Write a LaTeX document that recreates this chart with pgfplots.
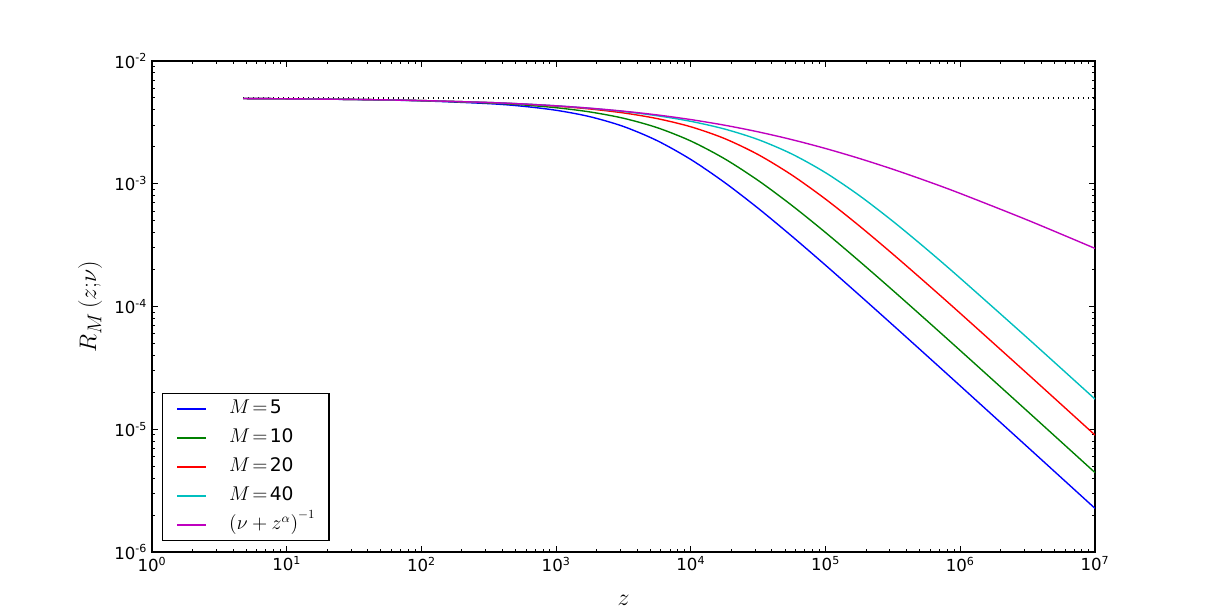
\documentclass[border=0pt]{standalone}
\usepackage[no-math]{fontspec}
\setmainfont{DejaVu Sans}
\usepackage{pgfplots}
\pgfplotsset{compat=1.18}
\definecolor{mplblue}{rgb}{0,0,1}
\definecolor{mplgreen}{rgb}{0,0.5,0}
\definecolor{mplred}{rgb}{1,0,0}
\definecolor{mplcyan}{rgb}{0,0.75,0.75}
\definecolor{mplmag}{rgb}{0.75,0,0.75}
\newcommand{\E}[1]{10\textsuperscript{#1}}
\begin{document}
\begin{tikzpicture}
\useasboundingbox (0,0) rectangle (875.52bp,440.64bp);
\begin{axis}[
  at={(109.44bp,43.2bp)}, anchor=south west,
  scale only axis, width=678.96bp, height=353.52bp,
  xmode=log, ymode=log,
  xmin=1, xmax=1e7, ymin=1e-6, ymax=1e-2,
  axis line style={line width=1bp},
  tick align=inside,
  major tick length=4bp, minor tick length=2bp,
  every tick/.style={black, line width=0.7bp},
  xtick={1,10,100,1000,10000,100000,1000000,10000000},
  xticklabels={\E{0},\E{1},\E{2},\E{3},\E{4},\E{5},\E{6},\E{7}},
  minor xtick={2,3,4,5,6,7,8,9,20,30,40,50,60,70,80,90,200,300,400,500,600,700,800,900,2000,3000,4000,5000,6000,7000,8000,9000,20000,30000,40000,50000,60000,70000,80000,90000,200000,300000,400000,500000,600000,700000,800000,900000,2000000,3000000,4000000,5000000,6000000,7000000,8000000,9000000},
  ytick={1e-6,1e-5,1e-4,1e-3,1e-2},
  yticklabels={\E{-6},\E{-5},\E{-4},\E{-3},\E{-2}},
  minor ytick={2e-6,3e-6,4e-6,5e-6,6e-6,7e-6,8e-6,9e-6,2e-5,3e-5,4e-5,5e-5,6e-5,7e-5,8e-5,9e-5,2e-4,3e-4,4e-4,5e-4,6e-4,7e-4,8e-4,9e-4,2e-3,3e-3,4e-3,5e-3,6e-3,7e-3,8e-3,9e-3},
  tick label style={font=\fontsize{12}{14}\selectfont},
  xlabel={$z$},
  ylabel={$R_M\,(z{;}\nu)$},
  label style={font=\fontsize{19}{22}\selectfont},
  xlabel style={at={(axis description cs:0.5,-0.0978)}, anchor=center},
  ylabel style={at={(axis description cs:-0.0657,0.5)}, anchor=center},
  legend style={at={(axis description cs:0.0106,0.0224)}, anchor=south west,
    draw=black, line width=1bp, font=\fontsize{13.5}{16}\selectfont,
    inner xsep=9.9bp, inner ysep=0.5bp, row sep=0bp, column sep=16.1bp,
    nodes={inner sep=0pt, text height=13.45bp, text depth=7.45bp},
    row 5/.style={nodes={text height=19.15bp, text depth=13.15bp}}},
  legend cell align=left,
  legend image code/.code={\draw[#1, line width=1bp] (0bp,0bp) -- (20.9bp,0bp);},
]
\addplot[black, line width=1bp, dash pattern=on 1bp off 2.6bp, forget plot] coordinates {(4.74,5e-3) (1e7,5e-3)};
\addplot[mplblue, line width=1bp, smooth] coordinates {(4.742,4.946e-3) (10,4.920e-3) (31.62,4.857e-3) (100,4.738e-3) (316.2,4.494e-3) (562.3,4.282e-3) (1000,3.969e-3) (1778,3.520e-3) (3162,2.928e-3) (5623,2.244e-3) (10000,1.576e-3) (17783,1.025e-3) (31623,6.307e-4) (56234,3.738e-4) (1e5,2.168e-4) (177828,1.241e-4) (316228,7.055e-5) (562341,3.993e-5) (1e6,2.254e-5) (3162278,7.158e-6) (1e7,2.267e-6)};
\addlegendentry{$M\mskip2mu{=}\mskip2mu$5}
\addplot[mplgreen, line width=1bp, smooth] coordinates {(4.742,4.946e-3) (10,4.921e-3) (31.62,4.862e-3) (100,4.752e-3) (316.2,4.551e-3) (562.3,4.389e-3) (1000,4.164e-3) (1778,3.848e-3) (3162,3.417e-3) (5623,2.864e-3) (10000,2.229e-3) (17783,1.599e-3) (31623,1.063e-3) (56234,6.659e-4) (1e5,4.003e-4) (177828,2.344e-4) (316228,1.351e-4) (562341,7.709e-5) (1e6,4.375e-5) (3162278,1.397e-5) (1e7,4.436e-6)};
\addlegendentry{$M\mskip2mu{=}\mskip2mu$10}
\addplot[mplred, line width=1bp, smooth] coordinates {(4.742,4.946e-3) (10,4.921e-3) (31.62,4.863e-3) (100,4.761e-3) (316.2,4.586e-3) (562.3,4.457e-3) (1000,4.287e-3) (1778,4.066e-3) (3162,3.776e-3) (5623,3.395e-3) (10000,2.911e-3) (17783,2.335e-3) (31623,1.727e-3) (56234,1.177e-3) (1e5,7.492e-4) (177828,4.542e-4) (316228,2.669e-4) (562341,1.540e-4) (1e6,8.794e-5) (3162278,2.821e-5) (1e7,8.969e-6)};
\addlegendentry{$M\mskip2mu{=}\mskip2mu$20}
\addplot[mplcyan, line width=1bp, smooth] coordinates {(4.742,4.946e-3) (10,4.922e-3) (31.62,4.863e-3) (100,4.762e-3) (316.2,4.591e-3) (562.3,4.468e-3) (1000,4.313e-3) (1778,4.119e-3) (3162,3.878e-3) (5623,3.583e-3) (10000,3.224e-3) (17783,2.792e-3) (31623,2.289e-3) (56234,1.747e-3) (1e5,1.230e-3) (177828,8.024e-4) (316228,4.943e-4) (562341,2.932e-4) (1e6,1.699e-4) (3162278,5.521e-5) (1e7,1.762e-5)};
\addlegendentry{$M\mskip2mu{=}\mskip2mu$40}
\addplot[mplmag, line width=1bp, smooth] coordinates {(4.742,4.946e-3) (10,4.922e-3) (31.62,4.863e-3) (100,4.762e-3) (316.2,4.592e-3) (562.3,4.470e-3) (1000,4.317e-3) (1778,4.129e-3) (3162,3.903e-3) (5623,3.637e-3) (10000,3.333e-3) (17783,3.000e-3) (31623,2.647e-3) (56234,2.288e-3) (1e5,1.937e-3) (177828,1.6085e-3) (316228,1.312e-3) (562341,1.0528e-3) (1e6,8.333e-4) (3162278,5.055e-4) (1e7,2.974e-4)};
\addlegendentry{$\left(\nu+z^{\alpha}\right)^{-1}$}
\end{axis}
\end{tikzpicture}
\end{document}
